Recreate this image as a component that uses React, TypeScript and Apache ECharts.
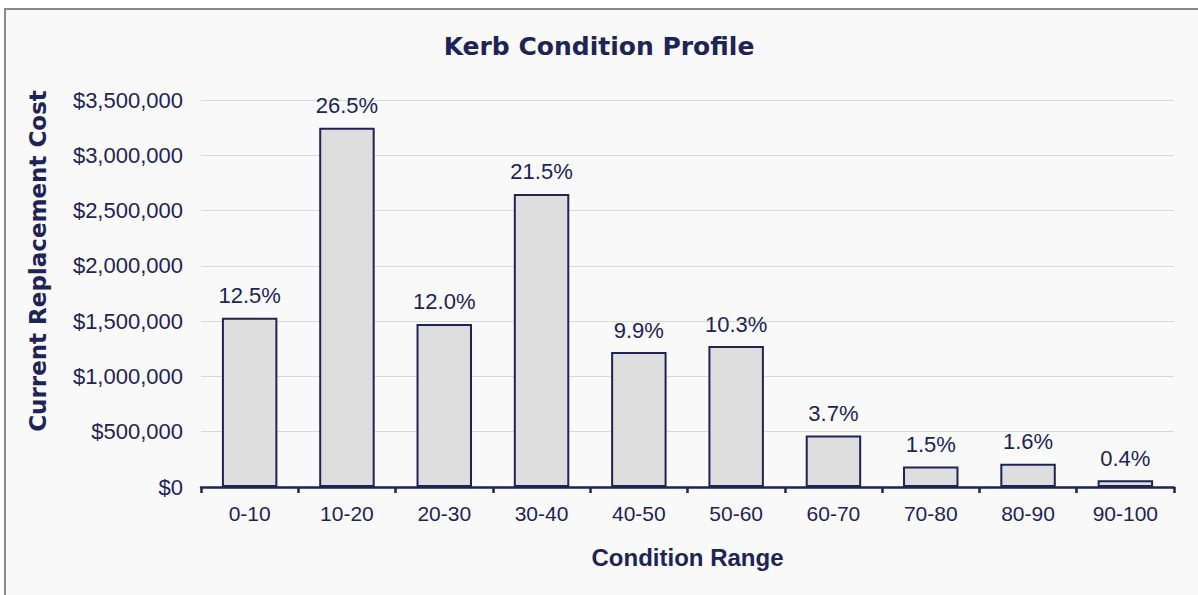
import React, { useEffect, useRef } from "react";
import * as echarts from "echarts";

const categories = ["0-10", "10-20", "20-30", "30-40", "40-50", "50-60", "60-70", "70-80", "80-90", "90-100"];
const costs = [1530000, 3250000, 1475000, 2650000, 1220000, 1275000, 465000, 185000, 210000, 60000];
const percentLabels = ["12.5%", "26.5%", "12.0%", "21.5%", "9.9%", "10.3%", "3.7%", "1.5%", "1.6%", "0.4%"];

const NAVY = "#1f2355";

export default function App() {
  const ref = useRef<HTMLDivElement>(null);
  useEffect(() => {
    if (!ref.current) return;
    const chart = echarts.init(ref.current, null, { renderer: "svg" });
    chart.setOption({
      animation: false,
      backgroundColor: "#ffffff",
      graphic: [
        {
          type: "rect",
          z: -10,
          shape: { x: 5, y: 9, width: 1210, height: 600 },
          style: { fill: "#f9f9f9", stroke: "#8a8a8a", lineWidth: 2 },
        },
        {
          type: "text",
          x: 38,
          y: 261,
          rotation: Math.PI / 2,
          style: {
            text: "Current Replacement Cost",
            fontFamily: "DejaVu Sans",
            fontWeight: "bold",
            fontSize: 23,
            fill: NAVY,
            align: "center",
            verticalAlign: "middle",
          },
        },
      ],
      title: {
        text: "Kerb Condition Profile",
        left: "center",
        top: 29,
        textStyle: { fontFamily: "DejaVu Sans", fontWeight: "bold", fontSize: 25, color: NAVY },
      },
      grid: { left: 201, right: 24, top: 100, bottom: 108 },
      xAxis: {
        type: "category",
        data: categories,
        name: "Condition Range",
        nameLocation: "middle",
        nameGap: 58,
        nameTextStyle: { fontFamily: "Liberation Sans", fontWeight: "bold", fontSize: 24, color: NAVY },
        axisLine: { lineStyle: { color: NAVY, width: 2.5 } },
        axisTick: { show: true, length: 6, lineStyle: { color: NAVY, width: 2.5 } },
        axisLabel: { fontFamily: "Liberation Sans", fontSize: 21, color: NAVY, margin: 16 },
      },
      yAxis: {
        type: "value",
        min: 0,
        max: 3500000,
        interval: 500000,
        axisLine: { show: false },
        axisTick: { show: false },
        splitLine: { lineStyle: { color: "#d9d9d9", width: 1 } },
        axisLabel: {
          fontFamily: "Liberation Sans",
          fontSize: 22,
          color: NAVY,
          margin: 18,
          formatter: (v: number) => "$" + v.toLocaleString("en-US"),
        },
      },
      series: [
        {
          type: "bar",
          data: costs,
          barWidth: "57%",
          itemStyle: { color: "#dedede", borderColor: NAVY, borderWidth: 2 },
          label: {
            show: true,
            position: "top",
            distance: 11,
            fontFamily: "Liberation Sans",
            fontSize: 22,
            color: NAVY,
            formatter: (p: any) => percentLabels[p.dataIndex],
          },
        },
      ],
    });
    return () => chart.dispose();
  }, []);
  return (
    <div style={{ position: "fixed", left: 0, top: 0, width: 1198, height: 595, background: "#fff" }}>
      <div ref={ref} style={{ width: 1198, height: 595 }} />
    </div>
  );
}
